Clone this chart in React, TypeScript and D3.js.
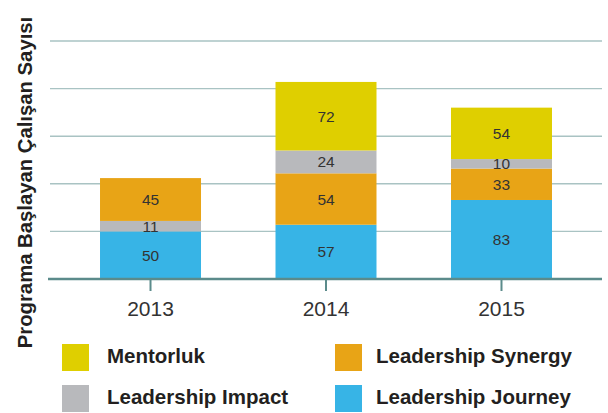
import React, { useEffect } from 'react';
import * as d3 from 'd3';

// chart data
const years = ['2013', '2014', '2015'];
const journey = [50, 57, 83];
const synergy = [45, 54, 33];
const impact = [11, 24, 10];
const mentorluk = [0, 72, 54];
const yTicks = [50, 100, 150, 200, 250];

// bottom-to-top order of the segments in each bar (2013 stacks impact under synergy)
const stackOrder = [
  ['journey', 'impact', 'synergy', 'mentorluk'],
  ['journey', 'synergy', 'impact', 'mentorluk'],
  ['journey', 'synergy', 'impact', 'mentorluk'],
];

const seriesValues: Record<string, number[]> = { journey, synergy, impact, mentorluk };

const colors: Record<string, string> = {
  mentorluk: '#dfcf00',
  synergy: '#e8a416',
  impact: '#b8b9bc',
  journey: '#37b4e6',
};

const legendItems = [
  { key: 'mentorluk', label: 'Mentorluk' },
  { key: 'synergy', label: 'Leadership Synergy' },
  { key: 'impact', label: 'Leadership Impact' },
  { key: 'journey', label: 'Leadership Journey' },
];

const W = 608;
const H = 413;
const FONT = '"Liberation Sans", Arial, Helvetica, sans-serif';

export default function App() {
  useEffect(() => {
    document.body.style.margin = '0';
  }, []);

  const x = d3.scaleBand<string>()
    .domain(years)
    .range([50, 602])
    .paddingInner(0.4245)
    .paddingOuter(0.285);

  const y = d3.scaleLinear().domain([0, 250]).range([279, 41]);

  // build stacked segments per year
  const segments: { key: string; year: string; y0: number; y1: number; value: number }[] = [];
  years.forEach((year, i) => {
    let acc = 0;
    stackOrder[i].forEach(key => {
      const v = seriesValues[key][i];
      if (v > 0) {
        segments.push({ key, year, y0: acc, y1: acc + v, value: v });
        acc += v;
      }
    });
  });

  const bw = x.bandwidth();

  // legend columns: swatch x and label x
  const legendCols = [
    { sx: 62, tx: 107 },
    { sx: 335, tx: 376 },
  ];

  return (
    <svg width={W} height={H} style={{ display: 'block', background: '#fff' }} fontFamily={FONT}>
      {/* gridlines */}
      {yTicks.map(t => (
        <line key={t} x1={50} x2={602} y1={y(t)} y2={y(t)} stroke="#a9c3c3" strokeWidth={1.4} />
      ))}

      {/* bars */}
      {segments.map(s => (
        <rect
          key={s.year + s.key}
          x={x(s.year)}
          y={y(s.y1)}
          width={bw}
          height={y(s.y0) - y(s.y1)}
          fill={colors[s.key]}
        />
      ))}

      {/* value labels */}
      {segments.map(s => (
        <text
          key={'l' + s.year + s.key}
          x={(x(s.year) ?? 0) + bw / 2}
          y={(y(s.y0) + y(s.y1)) / 2}
          textAnchor="middle"
          dominantBaseline="central"
          fontSize={15.5}
          fill="#333"
        >
          {s.value}
        </text>
      ))}

      {/* x axis */}
      <line x1={48} x2={602} y1={y(0)} y2={y(0)} stroke="#5b8b8b" strokeWidth={2.4} />
      {years.map(yr => {
        const cx = (x(yr) ?? 0) + bw / 2;
        return (
          <g key={yr}>
            <line x1={cx} x2={cx} y1={y(0)} y2={y(0) + 12} stroke="#5b8b8b" strokeWidth={2} />
            <text x={cx} y={316} textAnchor="middle" fontSize={21} fill="#333">
              {yr}
            </text>
          </g>
        );
      })}

      {/* y axis title */}
      <text
        transform="translate(32,182.5) rotate(-90)"
        textAnchor="middle"
        fontSize={20.3}
        fontWeight="bold"
        fill="#231f20"
      >
        Programa Başlayan Çalışan Sayısı
      </text>

      {/* legend */}
      {legendItems.map((item, i) => {
        const col = legendCols[i % 2];
        const row = Math.floor(i / 2);
        const ly = 344 + row * 41;
        return (
          <g key={item.key}>
            <rect x={col.sx} y={ly} width={27} height={27} fill={colors[item.key]} />
            <text x={col.tx} y={ly + 18.5} fontSize={20.5} fontWeight="bold" fill="#231f20">
              {item.label}
            </text>
          </g>
        );
      })}
    </svg>
  );
}
